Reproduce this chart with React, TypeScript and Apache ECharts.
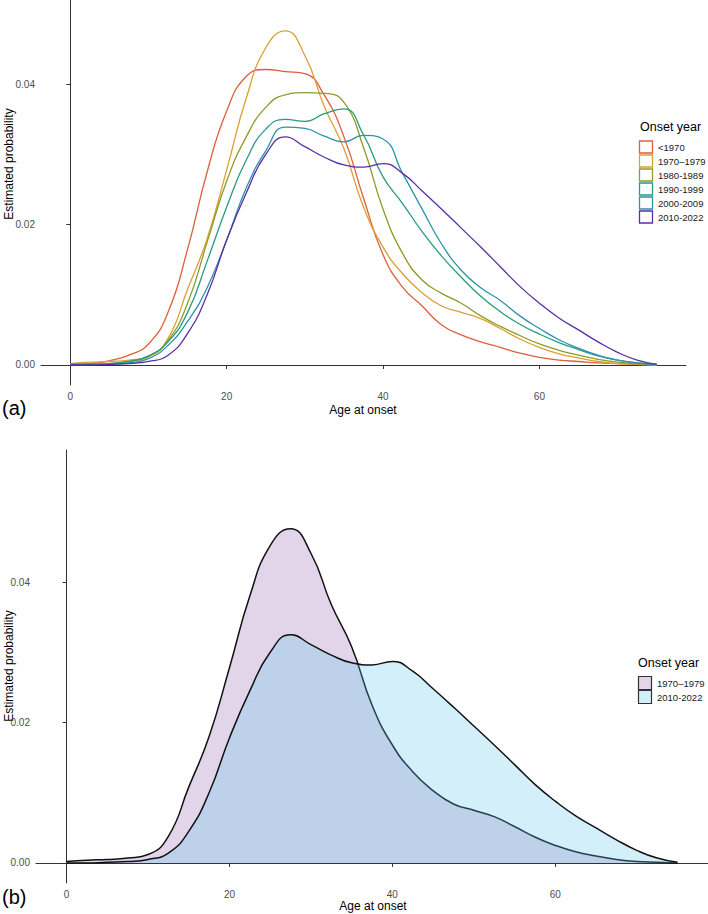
import React, { useEffect, useRef } from "react";
import * as echarts from "echarts";

// Age at onset grid (years)
const AGES = [0, 2.5, 5, 7.5, 10, 12.5, 15, 17.5, 20, 22.5, 25, 27.5, 30, 32.5, 35, 37.5, 40, 42.5, 45, 47.5, 50, 52.5, 55, 57.5, 60, 62.5, 65, 67.5, 70, 72.5, 75];

// Estimated density per onset-year group
const S_PRE1970 = [0.0001, 0.0002, 0.0006, 0.0014, 0.003, 0.0075, 0.0165, 0.0275, 0.0362, 0.0411, 0.0421, 0.0418, 0.0415, 0.0384, 0.0325, 0.0238, 0.0157, 0.0111, 0.0084, 0.0057, 0.0043, 0.0033, 0.0025, 0.0017, 0.0011, 0.0007, 0.0005, 0.0003, 0.0002, 0.0001, 0.0];
const S_1970 = [0.0002, 0.0004, 0.0005, 0.0007, 0.0012, 0.0038, 0.0108, 0.018, 0.0278, 0.038, 0.0452, 0.0476, 0.0441, 0.0368, 0.0308, 0.0225, 0.0168, 0.013, 0.0103, 0.0084, 0.0075, 0.0066, 0.0052, 0.0037, 0.0025, 0.0016, 0.001, 0.0005, 0.0002, 0.0001, 0.0];
const S_1980 = [0.0001, 0.0001, 0.0002, 0.0005, 0.0012, 0.0035, 0.0088, 0.0175, 0.0262, 0.0325, 0.0367, 0.0385, 0.0388, 0.0387, 0.0374, 0.031, 0.0222, 0.0159, 0.0121, 0.0102, 0.0088, 0.007, 0.0055, 0.0042, 0.003, 0.0021, 0.0014, 0.0008, 0.0004, 0.0002, 0.0001];
const S_1990 = [0.0001, 0.0001, 0.0002, 0.0005, 0.0013, 0.0033, 0.0075, 0.0148, 0.0225, 0.0292, 0.0336, 0.035, 0.0347, 0.0358, 0.0365, 0.0328, 0.0268, 0.023, 0.019, 0.0155, 0.0125, 0.0098, 0.0076, 0.0058, 0.0044, 0.0032, 0.0022, 0.0013, 0.0007, 0.0003, 0.0001];
const S_2000 = [0.0001, 0.0001, 0.0001, 0.0003, 0.0009, 0.0028, 0.0062, 0.011, 0.0178, 0.0252, 0.0305, 0.0339, 0.0337, 0.0326, 0.0318, 0.0327, 0.0322, 0.0273, 0.0222, 0.0172, 0.0135, 0.011, 0.0092, 0.007, 0.0052, 0.0036, 0.0024, 0.0014, 0.0007, 0.0003, 0.0001];
const S_2010 = [0.0, 0.0, 0.0001, 0.0002, 0.0005, 0.0014, 0.0045, 0.01, 0.0178, 0.0245, 0.03, 0.0325, 0.0311, 0.0296, 0.0285, 0.0282, 0.0287, 0.0273, 0.0248, 0.0222, 0.0195, 0.0168, 0.014, 0.0112, 0.0088, 0.0067, 0.005, 0.0033, 0.0018, 0.0007, 0.0001];

const GROUP_NAMES = ["<1970", "1970\u20131979", "1980-1989", "1990-1999", "2000-2009", "2010-2022"];
const GROUP_VALUES = [S_PRE1970, S_1970, S_1980, S_1990, S_2000, S_2010];
const GROUP_COLORS = ["#df5f3c", "#dca032", "#8e9b2a", "#279c7f", "#2c93ab", "#5a2ea6"];

const X_TICKS = [0, 20, 40, 60];
const Y_TICKS = [0, 0.02, 0.04];

const FONT = "'Liberation Sans', Arial, sans-serif";
const SMOOTH = 0.5;

function pairs(vals: number[]) {
  return AGES.map((a, i) => [a, vals[i]]);
}

export default function App() {
  const ref = useRef<HTMLDivElement>(null);
  useEffect(() => {
    if (!ref.current) return;
    const chart = echarts.init(ref.current, undefined, { renderer: "svg" });

    const axisCommonX = (gi: number) => ({
      type: "value",
      gridIndex: gi,
      min: -3.75,
      max: 78.75,
      axisLine: { show: true, lineStyle: { color: "#333", width: 1 } },
      axisTick: { show: true, customValues: X_TICKS, length: 4, lineStyle: { color: "#333", width: 1 } },
      axisLabel: { customValues: X_TICKS, color: "#4d4d4d", fontSize: 10, fontFamily: FONT, margin: 6 },
      splitLine: { show: false },
    });
    const axisCommonY = (gi: number, max: number) => ({
      type: "value",
      gridIndex: gi,
      min: -0.00285,
      max,
      axisLine: { show: true, lineStyle: { color: "#333", width: 1 } },
      axisTick: { show: true, customValues: Y_TICKS, length: 4, lineStyle: { color: "#333", width: 1 } },
      axisLabel: {
        customValues: Y_TICKS,
        color: "#4d4d4d",
        fontSize: 10,
        fontFamily: FONT,
        margin: 6,
        formatter: (v: number) => v.toFixed(2),
      },
      splitLine: { show: false },
    });

    const seriesA = GROUP_NAMES.map((name, i) => ({
      name,
      type: "line",
      xAxisIndex: 0,
      yAxisIndex: 0,
      data: pairs(GROUP_VALUES[i]),
      smooth: SMOOTH,
      showSymbol: false,
      symbol: "none",
      lineStyle: { color: GROUP_COLORS[i], width: 1.3 },
      z: 2 + i,
    }));

    const seriesB = [
      {
        name: "b-1970",
        type: "line",
        xAxisIndex: 1,
        yAxisIndex: 1,
        data: pairs(S_1970),
        smooth: SMOOTH,
        showSymbol: false,
        symbol: "none",
        lineStyle: { color: "#111", width: 1.5 },
        areaStyle: { color: "rgb(147,99,173)", opacity: 0.27 },
        z: 2,
      },
      {
        name: "b-2010",
        type: "line",
        xAxisIndex: 1,
        yAxisIndex: 1,
        data: pairs(S_2010),
        smooth: SMOOTH,
        showSymbol: false,
        symbol: "none",
        lineStyle: { color: "#111", width: 1.5 },
        areaStyle: { color: "rgb(92,199,236)", opacity: 0.27 },
        z: 3,
      },
    ];

    const legendA: any[] = [
      { type: "text", left: 640, top: 120, style: { text: "Onset year", fontSize: 12.5, fontFamily: FONT, fill: "#000" } },
    ];
    GROUP_NAMES.forEach((name, i) => {
      const cy = 147 + i * 14;
      legendA.push({
        type: "rect",
        shape: { x: 639.5, y: cy - 6, width: 13, height: 12 },
        style: { fill: "#fff", stroke: GROUP_COLORS[i], lineWidth: 1.3 },
      });
      legendA.push({
        type: "text",
        x: 658,
        y: cy,
        style: { text: name, fontSize: 9.5, fontFamily: FONT, fill: "#1a1a1a", verticalAlign: "middle", align: "left" },
      });
    });

    const legendBNames = ["1970\u20131979", "2010-2022"];
    const legendBFills = ["#e2d5e9", "#d3f0fa"];
    const legendB: any[] = [
      { type: "text", left: 638, top: 656, style: { text: "Onset year", fontSize: 12.5, fontFamily: FONT, fill: "#000" } },
    ];
    legendBNames.forEach((name, i) => {
      const cy = 683 + i * 14;
      legendB.push({
        type: "rect",
        shape: { x: 638.5, y: cy - 6.5, width: 13, height: 13 },
        style: { fill: legendBFills[i], stroke: "#333", lineWidth: 1.2 },
      });
      legendB.push({
        type: "text",
        x: 657,
        y: cy,
        style: { text: name, fontSize: 9.5, fontFamily: FONT, fill: "#1a1a1a", verticalAlign: "middle", align: "left" },
      });
    });

    const titles: any[] = [
      { type: "text", x: 363, y: 410, style: { text: "Age at onset", fontSize: 12, fontFamily: FONT, fill: "#000", align: "center", verticalAlign: "middle" } },
      { type: "text", x: 373, y: 906, style: { text: "Age at onset", fontSize: 12, fontFamily: FONT, fill: "#000", align: "center", verticalAlign: "middle" } },
      { type: "text", x: 9, y: 164, rotation: Math.PI / 2, style: { text: "Estimated probability", fontSize: 12, fontFamily: FONT, fill: "#000", align: "center", verticalAlign: "middle" } },
      { type: "text", x: 9, y: 666, rotation: Math.PI / 2, style: { text: "Estimated probability", fontSize: 12, fontFamily: FONT, fill: "#000", align: "center", verticalAlign: "middle" } },
      { type: "text", x: 2, y: 408, style: { text: "(a)", fontSize: 20, fontFamily: FONT, fill: "#000", align: "left", verticalAlign: "middle" } },
      { type: "text", x: 2, y: 897, style: { text: "(b)", fontSize: 20, fontFamily: FONT, fill: "#000", align: "left", verticalAlign: "middle" } },
    ];

    chart.setOption({
      animation: false,
      backgroundColor: "#fff",
      grid: [
        { left: 41, top: 0, width: 645, height: 385 },
        { left: 36, top: 450, width: 674, height: 433 },
      ],
      xAxis: [axisCommonX(0), axisCommonX(1)],
      yAxis: [axisCommonY(0, 0.052), axisCommonY(1, 0.0588)],
      series: [...seriesA, ...seriesB],
      graphic: [...legendA, ...legendB, ...titles],
    });

    return () => chart.dispose();
  }, []);

  return <div ref={ref} style={{ position: "fixed", left: 0, top: 0, width: 708, height: 914 }} />;
}
